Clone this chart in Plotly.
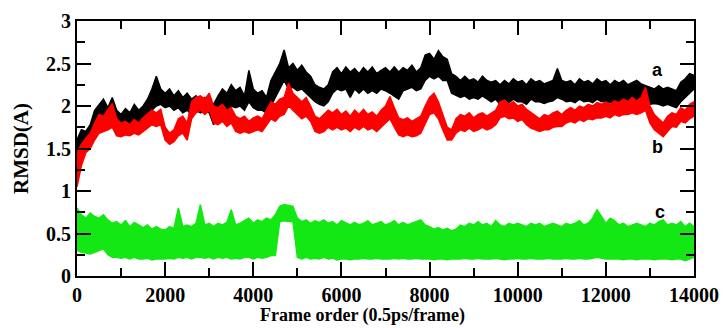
import plotly.graph_objects as go

# Frames sampled every 100 frames (0..14000)
frames = list(range(0, 14001, 100))

# Series a (black): upper / lower edge of the fluctuating trace
a_hi = [1.6, 1.72, 1.7, 1.78, 1.95, 2.02, 2.08, 1.98, 2.1, 1.95,
        1.9, 1.97, 1.92, 2.02, 1.95, 2.0, 2.08, 2.2, 2.35, 2.2,
        2.15, 2.2, 2.12, 2.18, 2.1, 2.15, 2.08, 2.12, 2.05, 2.1,
        2.05, 2.02, 2.12, 2.2, 2.15, 2.25, 2.18, 2.22, 2.12, 2.42,
        2.2, 2.15, 2.18, 2.1, 2.3, 2.4, 2.5, 2.66, 2.45, 2.5,
        2.42, 2.48, 2.4, 2.35, 2.25, 2.22, 2.2, 2.25, 2.4, 2.45,
        2.38, 2.46, 2.4, 2.44, 2.38, 2.45, 2.4, 2.46, 2.38, 2.42,
        2.45, 2.4, 2.46, 2.4, 2.45, 2.42, 2.48, 2.4, 2.45, 2.6,
        2.62, 2.55, 2.65, 2.58, 2.55, 2.38, 2.35, 2.3, 2.35, 2.3,
        2.32, 2.28, 2.35, 2.3, 2.28, 2.3, 2.25, 2.3, 2.26, 2.32,
        2.28, 2.3, 2.25, 2.32, 2.28, 2.3, 2.26, 2.28, 2.3, 2.44,
        2.3, 2.28, 2.3, 2.25, 2.32, 2.28, 2.3, 2.26, 2.32, 2.28,
        2.3, 2.25, 2.3, 2.27, 2.3, 2.25, 2.28, 2.3, 2.26, 2.24,
        2.22, 2.2, 2.24, 2.2, 2.22, 2.2, 2.18, 2.28, 2.32, 2.38,
        2.36]
a_lo = [1.4, 1.55, 1.6, 1.62, 1.75, 1.8, 1.85, 1.8, 1.85, 1.78,
        1.75, 1.8, 1.78, 1.82, 1.8, 1.85, 1.9, 1.95, 2.0, 2.02,
        1.98, 2.0, 1.95, 1.98, 1.92, 1.95, 1.9, 1.95, 1.92, 1.95,
        1.92, 1.78, 1.9, 1.98, 1.95, 2.0, 1.98, 2.0, 1.95, 2.05,
        1.98, 1.95, 1.95, 1.92, 2.0, 2.1, 2.2, 2.3, 2.2, 2.22,
        2.18, 2.2, 2.15, 2.1, 2.05, 2.02, 2.0, 2.05, 2.15, 2.2,
        2.18, 2.2, 2.1, 2.2, 2.15, 2.2, 2.15, 2.18, 2.15, 2.2,
        2.18, 2.15, 2.12, 2.08, 2.18, 2.2, 2.22, 2.18, 2.2, 2.3,
        2.35, 2.32, 2.35, 2.3, 2.3, 2.15, 2.12, 2.1, 2.12, 2.08,
        2.1, 2.08, 2.12, 2.08, 2.05, 2.08, 2.02, 2.05, 2.04, 2.08,
        2.05, 2.05, 2.02, 2.08, 2.05, 2.05, 2.03, 2.05, 2.06, 2.1,
        2.08, 2.05, 2.06, 2.04, 2.08, 2.05, 2.06, 2.04, 2.08, 2.05,
        2.06, 2.04, 2.05, 2.04, 2.06, 2.03, 2.05, 2.06, 2.04, 2.03,
        2.02, 2.03, 2.02, 2.0, 2.02, 2.0, 1.98, 2.05, 2.1, 2.15,
        2.2]

# Series b (red)
b_hi = [1.45, 1.55, 1.62, 1.68, 1.8, 1.9, 1.88, 1.95, 2.03, 1.85,
        1.8, 1.82, 1.78, 1.84, 1.8, 1.86, 1.9, 1.95, 1.92, 1.96,
        1.75, 1.68, 1.72, 1.85, 1.88, 1.8, 2.05, 2.1, 2.12, 2.08,
        2.15, 2.0, 1.98, 2.02, 1.95, 1.98, 1.88, 1.85, 1.88, 1.82,
        1.86, 1.88, 1.85, 1.95, 2.05, 2.02, 2.08, 2.1, 2.27, 2.15,
        2.1, 2.05, 2.1, 2.0, 1.88, 1.85, 1.9, 1.95, 1.92, 1.96,
        1.9, 1.94, 1.88, 1.95, 1.9, 1.96, 1.9, 1.93, 1.88, 1.95,
        2.0, 2.11, 1.98, 1.86, 1.84, 1.86, 1.82, 1.85, 1.88, 2.0,
        2.1, 2.15, 2.05, 1.9, 1.75, 1.72, 1.85, 1.9, 1.88, 1.92,
        1.86, 1.9, 1.92, 1.88, 1.92, 1.95, 2.05, 2.07, 2.02, 2.05,
        2.0, 2.02, 1.96, 1.92, 1.88, 1.85, 1.9, 1.88, 1.92, 1.94,
        1.9, 1.95, 1.98, 1.95, 2.0, 1.98, 2.02, 2.0, 2.04, 2.02,
        2.05, 2.02, 2.06, 2.04, 2.08, 2.05, 2.1, 2.06, 2.1, 2.22,
        2.0, 1.9, 1.85, 1.8, 1.88, 1.92, 1.9, 1.98, 1.95, 2.02,
        2.05]
b_lo = [1.05, 1.3, 1.45, 1.5, 1.6, 1.68, 1.7, 1.72, 1.75, 1.65,
        1.64, 1.66, 1.65, 1.68, 1.66, 1.7, 1.75, 1.78, 1.76, 1.78,
        1.6, 1.55, 1.58, 1.65, 1.68, 1.6, 1.85, 1.92, 1.95, 1.9,
        1.95, 1.8, 1.78, 1.82, 1.76, 1.8, 1.7, 1.68, 1.7, 1.68,
        1.7, 1.72, 1.7, 1.78, 1.85, 1.82, 1.88, 1.9, 2.0, 1.95,
        1.9, 1.85, 1.88, 1.82, 1.7, 1.68, 1.7, 1.75, 1.72, 1.75,
        1.72, 1.74, 1.7, 1.75, 1.72, 1.76, 1.72, 1.74, 1.7, 1.75,
        1.8, 1.85, 1.75, 1.66, 1.64, 1.66, 1.64, 1.65, 1.68, 1.8,
        1.9, 1.92, 1.85, 1.72, 1.6, 1.6, 1.68, 1.72, 1.7, 1.74,
        1.7, 1.72, 1.75, 1.72, 1.74, 1.78, 1.86, 1.88, 1.85, 1.86,
        1.82, 1.84, 1.78, 1.74, 1.72, 1.7, 1.72, 1.72, 1.75, 1.76,
        1.76, 1.8, 1.82, 1.8, 1.84, 1.82, 1.85, 1.84, 1.86, 1.86,
        1.88, 1.86, 1.9, 1.88, 1.9, 1.9, 1.92, 1.9, 1.92, 1.95,
        1.8, 1.72, 1.68, 1.64, 1.7, 1.76, 1.75, 1.82, 1.8, 1.85,
        1.88]

# Series c (green)
c_hi = [0.8, 0.72, 0.68, 0.74, 0.7, 0.68, 0.72, 0.66, 0.62, 0.64,
        0.6, 0.65, 0.58, 0.63, 0.6, 0.57, 0.6, 0.55, 0.58, 0.55,
        0.54, 0.58, 0.56, 0.8, 0.58, 0.6, 0.58, 0.62, 0.84, 0.6,
        0.62, 0.58, 0.62, 0.6, 0.63, 0.78, 0.6, 0.62, 0.65, 0.68,
        0.62, 0.66, 0.64, 0.68, 0.66, 0.72, 0.82, 0.84, 0.83, 0.82,
        0.68, 0.64, 0.66, 0.62, 0.65, 0.63, 0.66, 0.62, 0.64, 0.6,
        0.65, 0.62, 0.6, 0.63, 0.6, 0.62, 0.65, 0.6, 0.62, 0.64,
        0.6, 0.62, 0.65, 0.6, 0.63, 0.6, 0.62, 0.64, 0.66, 0.6,
        0.58, 0.55, 0.57, 0.54, 0.56, 0.53, 0.55, 0.6, 0.58, 0.62,
        0.6, 0.64, 0.6, 0.62, 0.58, 0.65, 0.6, 0.58, 0.62, 0.6,
        0.62, 0.6, 0.58, 0.62, 0.6, 0.62, 0.58, 0.6, 0.62, 0.6,
        0.58, 0.62, 0.6, 0.62, 0.65, 0.6, 0.62, 0.68, 0.78, 0.7,
        0.62, 0.68, 0.65, 0.6, 0.62, 0.58, 0.6, 0.62, 0.6, 0.58,
        0.62, 0.6, 0.64, 0.66, 0.6, 0.62, 0.6, 0.64, 0.58, 0.62,
        0.58]
c_lo = [0.3, 0.28, 0.27, 0.26, 0.28, 0.3, 0.32, 0.25, 0.22, 0.22,
        0.21, 0.22, 0.2, 0.22, 0.2, 0.2, 0.21, 0.19, 0.2, 0.2,
        0.2, 0.21, 0.2, 0.22, 0.21, 0.22, 0.2, 0.22, 0.22, 0.21,
        0.22, 0.2, 0.22, 0.21, 0.22, 0.2, 0.21, 0.2, 0.22, 0.22,
        0.2, 0.22, 0.21, 0.22, 0.24, 0.24, 0.64, 0.65, 0.64, 0.64,
        0.22, 0.2, 0.22, 0.2, 0.21, 0.2, 0.22, 0.2, 0.21, 0.19,
        0.2, 0.2, 0.19, 0.2, 0.2, 0.21, 0.2, 0.2, 0.21, 0.2,
        0.2, 0.2, 0.21, 0.2, 0.21, 0.2, 0.2, 0.21, 0.2, 0.2,
        0.2, 0.19, 0.2, 0.2, 0.19, 0.2, 0.2, 0.2, 0.21, 0.2,
        0.2, 0.21, 0.2, 0.2, 0.2, 0.21, 0.2, 0.19, 0.2, 0.2,
        0.21, 0.2, 0.2, 0.21, 0.2, 0.2, 0.2, 0.21, 0.2, 0.2,
        0.2, 0.21, 0.2, 0.2, 0.21, 0.2, 0.2, 0.21, 0.22, 0.21,
        0.2, 0.2, 0.2, 0.2, 0.19, 0.2, 0.2, 0.19, 0.2, 0.2,
        0.2, 0.19, 0.2, 0.2, 0.2, 0.19, 0.2, 0.2, 0.18, 0.2,
        0.22]

x_ticks = [0, 2000, 4000, 6000, 8000, 10000, 12000, 14000]
y_ticks = [0, 0.5, 1, 1.5, 2, 2.5, 3]
y_tick_labels = ["0", "0.5", "1", "1.5", "2", "2.5", "3"]

series = [
    ("a", a_lo, a_hi, "#000000"),
    ("b", b_lo, b_hi, "#ff0000"),
    ("c", c_lo, c_hi, "#14e814"),
]

labels = [("a", 13183, 2.42), ("b", 13161, 1.52), ("c", 13229, 0.75)]

fig = go.Figure()
for name, lo, hi, col in series:
    fig.add_trace(go.Scatter(x=frames, y=lo, mode="lines",
                             line=dict(color=col, width=1.5),
                             showlegend=False, hoverinfo="skip"))
    fig.add_trace(go.Scatter(x=frames, y=hi, mode="lines", fill="tonexty",
                             fillcolor=col, line=dict(color=col, width=1.5),
                             name=name, showlegend=False))

for txt, xv, yv in labels:
    fig.add_annotation(x=xv, y=yv, text=txt, showarrow=False,
                       font=dict(family="Liberation Sans", size=18,
                                 color="black", weight="bold"))

# x-axis title (placed as annotation to match the reference position)
fig.add_annotation(xref="paper", yref="paper", x=0.4635, y=-0.155,
                   xanchor="center", yanchor="middle", showarrow=False,
                   text="Frame order (0.5ps/frame)",
                   font=dict(family="Liberation Serif", size=18,
                             color="black", weight="bold"))

yfont = dict(family="Liberation Serif", size=20, color="black", weight="bold")
xfont = dict(family="Liberation Serif", size=20, color="black", weight="bold")

fig.update_layout(
    width=728, height=328,
    margin=dict(l=77, r=34, t=21, b=52),
    paper_bgcolor="white", plot_bgcolor="white",
    showlegend=False,
)
fig.update_xaxes(
    range=[0, 14000], tickmode="array", tickvals=x_ticks,
    ticktext=[str(v) for v in x_ticks], automargin=False,
    ticks="inside", ticklen=14, tickwidth=2, tickcolor="black",
    minor=dict(ticks="inside", dtick=1000, ticklen=8, tickwidth=2, tickcolor="black"),
    showline=True, linecolor="black", linewidth=2, mirror="ticks",
    showgrid=False, zeroline=False, tickfont=xfont,
)
fig.update_yaxes(
    range=[0, 3], tickmode="array", tickvals=y_ticks, ticktext=y_tick_labels,
    automargin=False,
    ticks="inside", ticklen=14, tickwidth=2, tickcolor="black",
    minor=dict(ticks="inside", dtick=0.25, ticklen=8, tickwidth=2, tickcolor="black"),
    showline=True, linecolor="black", linewidth=2, mirror="ticks",
    showgrid=False, zeroline=False, tickfont=yfont,
    title=dict(text="RMSD(A)", font=dict(family="Liberation Serif", size=21,
                                         color="black", weight="bold"), standoff=12),
)

fig.write_html("out.html")
